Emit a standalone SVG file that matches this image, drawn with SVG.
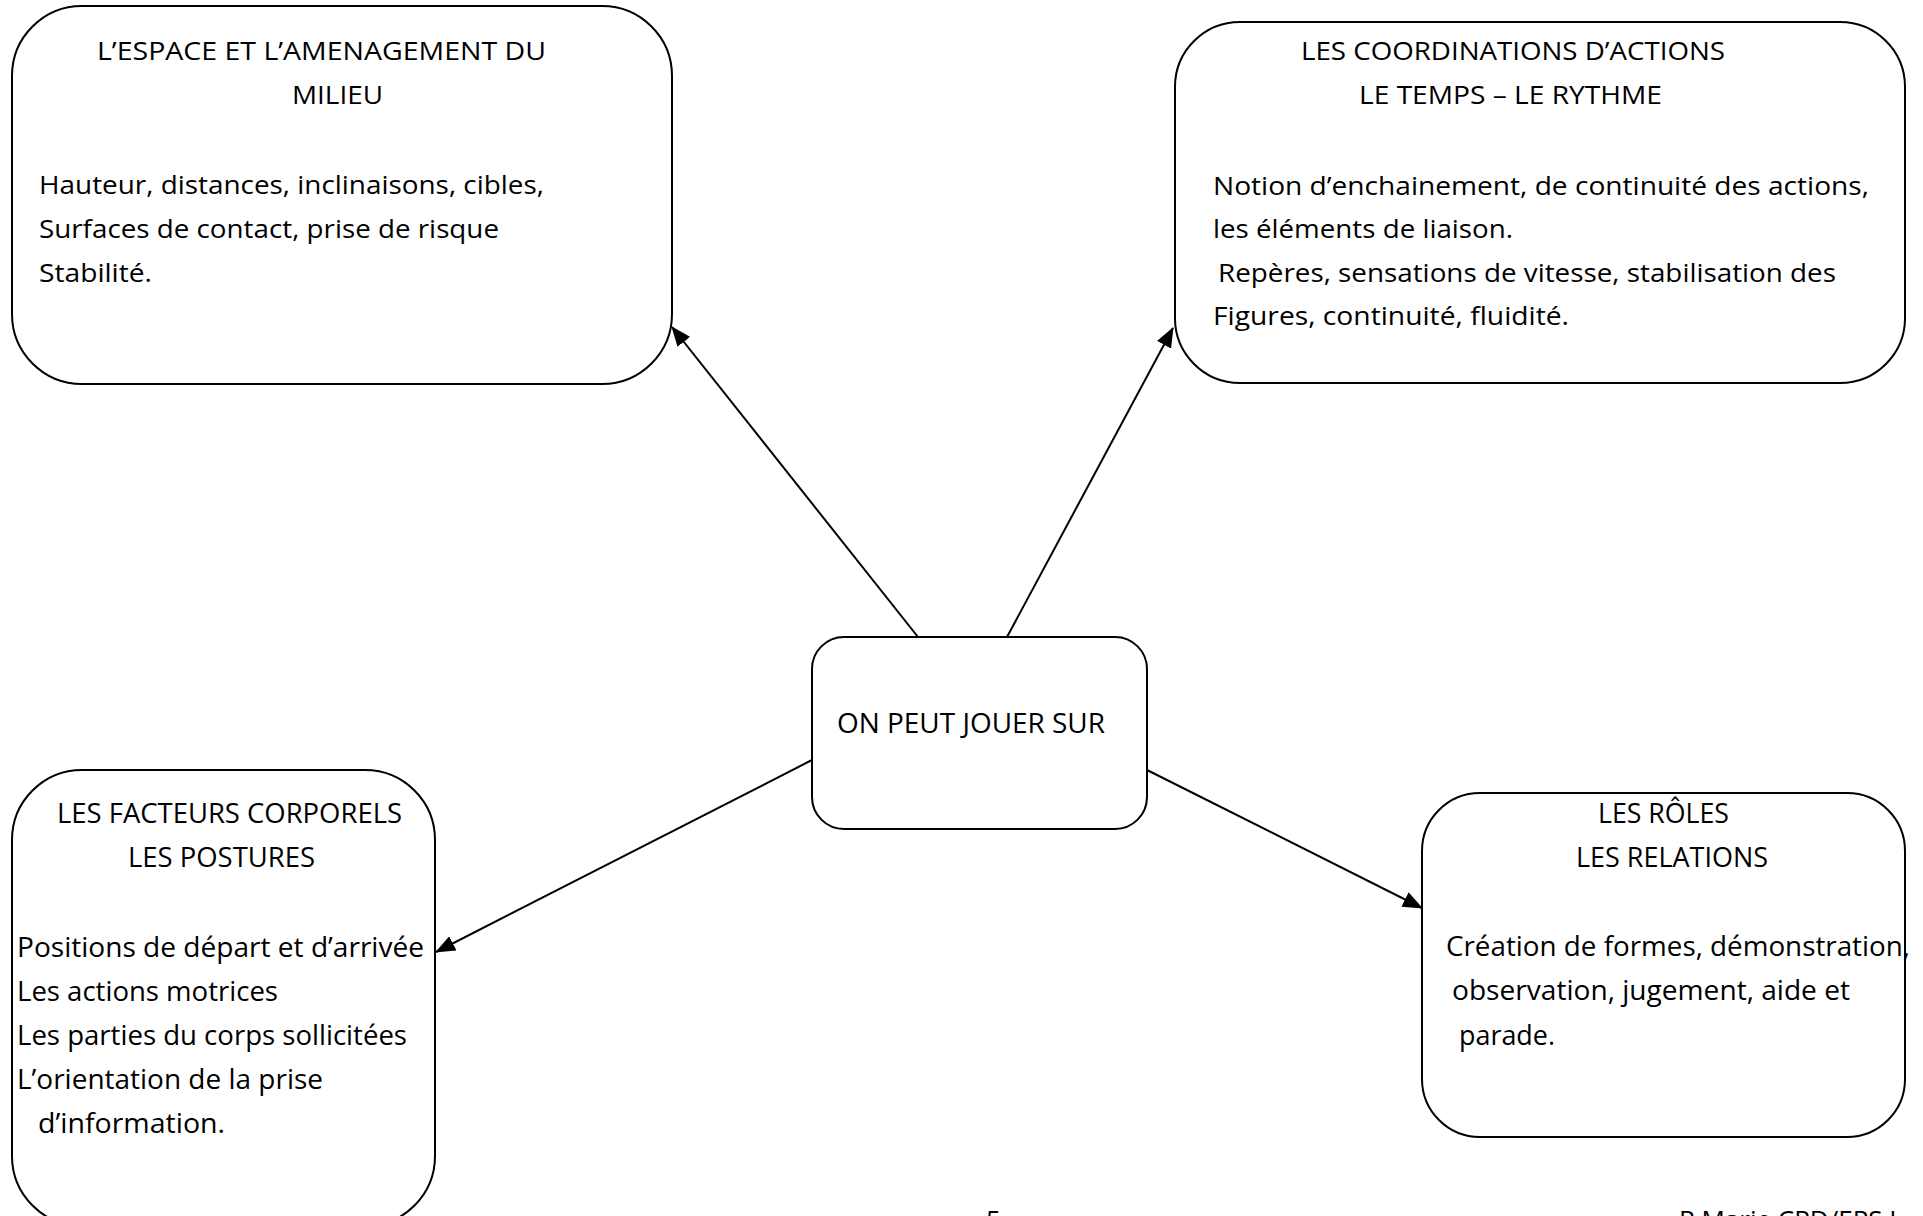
<svg xmlns="http://www.w3.org/2000/svg" width="1923" height="1216" viewBox="0 0 1923 1216">
<style>
.box{fill:#fff;stroke:#000;stroke-width:2}
.t{font-family:"Open Sans","Liberation Sans",sans-serif;font-size:26px;fill:#000}
.t2{font-family:"Open Sans","Liberation Sans",sans-serif;font-size:27px;fill:#000}
.c{stroke:#000;stroke-width:2;fill:none}
</style>
<defs>
<marker id="ah" markerUnits="userSpaceOnUse" markerWidth="20" markerHeight="16" refX="19" refY="8" orient="auto">
<path d="M0,0 L20,8 L0,16 z" fill="#000"/>
</marker>
</defs>
<rect width="1923" height="1216" fill="#fff"/>
<g id="connectors">
<line class="c" x1="918" y1="637" x2="672" y2="327" marker-end="url(#ah)"/>
<line class="c" x1="1007" y1="637" x2="1173" y2="328" marker-end="url(#ah)"/>
<line class="c" x1="812" y1="760" x2="436" y2="952" marker-end="url(#ah)"/>
<line class="c" x1="1147" y1="770" x2="1422" y2="908" marker-end="url(#ah)"/>
</g>
<g id="espace">
<rect class="box" x="12" y="6" width="660" height="378" rx="70" ry="70"/>
<text class="t" x="97" y="60" textLength="449" lengthAdjust="spacingAndGlyphs">L’ESPACE ET L’AMENAGEMENT DU</text>
<text class="t" x="292" y="104" textLength="91" lengthAdjust="spacingAndGlyphs">MILIEU</text>
<text class="t" x="39" y="194" textLength="505" lengthAdjust="spacingAndGlyphs">Hauteur, distances, inclinaisons, cibles,</text>
<text class="t" x="39" y="238" textLength="460" lengthAdjust="spacingAndGlyphs">Surfaces de contact, prise de risque</text>
<text class="t" x="39" y="282" textLength="113" lengthAdjust="spacingAndGlyphs">Stabilité.</text>
</g>
<g id="coordinations">
<rect class="box" x="1175" y="22" width="730" height="361" rx="65" ry="65"/>
<text class="t" x="1301" y="60" textLength="424" lengthAdjust="spacingAndGlyphs">LES COORDINATIONS D’ACTIONS</text>
<text class="t" x="1359" y="104" textLength="303" lengthAdjust="spacingAndGlyphs">LE TEMPS – LE RYTHME</text>
<text class="t" x="1213" y="195" textLength="656" lengthAdjust="spacingAndGlyphs">Notion d’enchainement, de continuité des actions,</text>
<text class="t" x="1213" y="238" textLength="300" lengthAdjust="spacingAndGlyphs">les éléments de liaison.</text>
<text class="t" x="1218" y="282" textLength="618" lengthAdjust="spacingAndGlyphs">Repères, sensations de vitesse, stabilisation des</text>
<text class="t" x="1213" y="325" textLength="356" lengthAdjust="spacingAndGlyphs">Figures, continuité, fluidité.</text>
</g>
<g id="centre">
<rect class="box" x="812" y="637" width="335" height="192" rx="32" ry="32"/>
<text class="t2" x="837" y="733" textLength="268" lengthAdjust="spacingAndGlyphs">ON PEUT JOUER SUR</text>
</g>
<g id="facteurs">
<rect class="box" x="12" y="770" width="423" height="456" rx="70" ry="70"/>
<text class="t2" x="57" y="823" textLength="345" lengthAdjust="spacingAndGlyphs">LES FACTEURS CORPORELS</text>
<text class="t2" x="128" y="867" textLength="187" lengthAdjust="spacingAndGlyphs">LES POSTURES</text>
<text class="t2" x="17" y="957" textLength="407" lengthAdjust="spacingAndGlyphs">Positions de départ et d’arrivée</text>
<text class="t2" x="17" y="1001" textLength="261" lengthAdjust="spacingAndGlyphs">Les actions motrices</text>
<text class="t2" x="17" y="1045" textLength="390" lengthAdjust="spacingAndGlyphs">Les parties du corps sollicitées</text>
<text class="t2" x="17" y="1089" textLength="306" lengthAdjust="spacingAndGlyphs">L’orientation de la prise</text>
<text class="t2" x="38" y="1133" textLength="187" lengthAdjust="spacingAndGlyphs">d’information.</text>
</g>
<g id="roles">
<rect class="box" x="1422" y="793" width="483" height="344" rx="58" ry="58"/>
<text class="t2" x="1598" y="823" textLength="131" lengthAdjust="spacingAndGlyphs">LES RÔLES</text>
<text class="t2" x="1576" y="867" textLength="192" lengthAdjust="spacingAndGlyphs">LES RELATIONS</text>
<text class="t2" x="1446" y="956" textLength="464" lengthAdjust="spacingAndGlyphs">Création de formes, démonstration,</text>
<text class="t2" x="1452" y="1000" textLength="398" lengthAdjust="spacingAndGlyphs">observation, jugement, aide et</text>
<text class="t2" x="1459" y="1045" textLength="96" lengthAdjust="spacingAndGlyphs">parade.</text>
</g>
<g id="footer">
<text class="t" x="986" y="1229">5</text>
<text class="t" x="1679" y="1229">P.Marie CPD/EPS I</text>
</g>
</svg>
